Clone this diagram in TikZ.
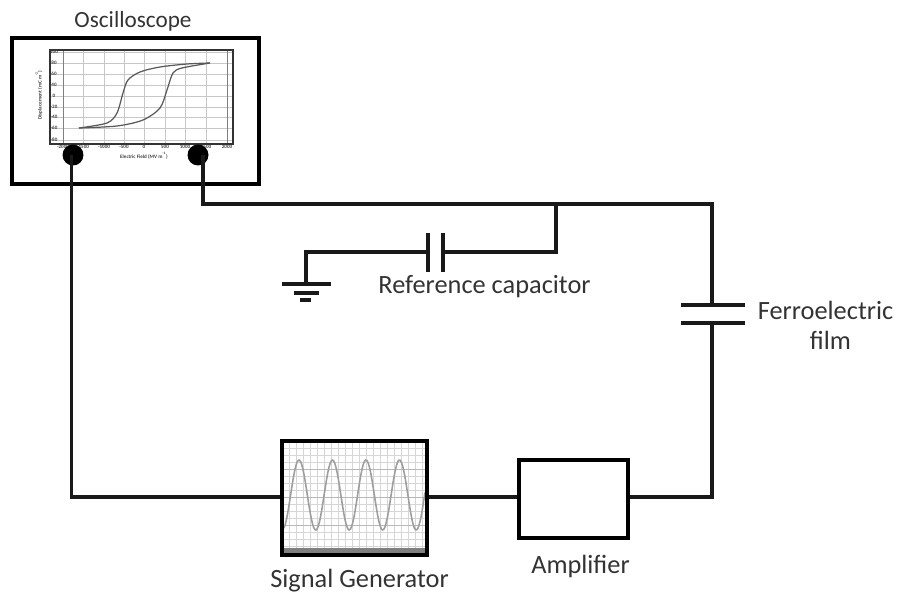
\documentclass[tikz,border=0pt]{standalone}
\usepackage{fontspec}
\setmainfont{Carlito}
\usepackage{tkz-euclide}
\definecolor{wavegray}{gray}{0.62}
\definecolor{gridgray}{gray}{0.84}
\tikzset{wire/.style={line width=1.8pt,black!90},
box/.style={draw=black,line width=1.9pt,fill=white,inner sep=0pt},
label/.style={font=\fontsize{15pt}{17pt}\selectfont,text=black!80,align=center,inner sep=0pt},
tiny/.style={font=\fontsize{2.9pt}{3pt}\selectfont\bfseries,text=black!75,inner sep=0pt}}
\begin{document}
\begin{tikzpicture}[x=0.02cm,y=-0.02cm]
\useasboundingbox (0,0) rectangle (898,597);
% oscilloscope
\node[box,line width=2.1pt,minimum width=4.94cm,minimum height=2.92cm] (scope) at (135.5,111) {};
\node[label,font=\fontsize{13.2pt}{16pt}\selectfont] (scopetext) at (133,21) {Oscilloscope};
\draw[black!22,line width=.4pt] (50,52) -- (233,52) (50,63) -- (233,63) (50,74) -- (233,74) (50,85) -- (233,85) (50,96) -- (233,96) (50,107) -- (233,107) (50,117) -- (233,117) (50,128) -- (233,128) (50,140) -- (233,140);
\foreach \xa in {83,104,124,144,165,185,206}
\draw[black!22,line width=.4pt] (\xa,50) -- (\xa,144);
\draw[black!50,line width=.5pt] (63,50) -- (63,144) (227,50) -- (227,144);
\draw[black!80,line width=.9pt] (50,50) rectangle (233,144);
\draw[black!65,line width=.7pt] plot[smooth] coordinates {(79,128) (107,123) (117,113) (123,93) (128,80) (140,72) (160,67) (187,64) (210,63)};
\draw[black!65,line width=.7pt] plot[smooth] coordinates {(79,128) (117,126) (143,120) (160,108) (167,90) (173,73) (182,68) (210,63)};
\foreach \xa/\xb in {63/-2000,83/-1500,104/-1000,124/-500,144/0,165/500,185/1000,206/1500,227/2000}
\node[tiny] at (\xa,147) {\xb};
\foreach \ya/\yb in {52/100,63/80,74/60,85/40,96/0,107/-20,117/-40,128/-60,140/-80}
\node[tiny] at (54,\ya) {\yb};
\node[tiny] (xtext) at (144,156) {Electric Field (MV m\textsuperscript{-1})};
\node[tiny,rotate=90] (ytext) at (39,95) {Displacement (mC m\textsuperscript{-2})};
\node[circle,fill=black,minimum size=0.42cm,inner sep=0pt] (pa) at (73,155) {};
\node[circle,fill=black,minimum size=0.42cm,inner sep=0pt] (pb) at (198,155) {};
% signal generator
\node[box,minimum width=2.9cm,minimum height=2.28cm] (gen) at (354.5,498) {};
\foreach \xa in {289,296,...,425}
\draw[gridgray,line width=.4pt] (\xa,443) -- (\xa,548);
\foreach \ya in {448,455,...,546}
\draw[gridgray,line width=.4pt] (284,\ya) -- (425,\ya);
\foreach \ya in {469,497,525}
\draw[black!28,line width=.5pt] (284,\ya) -- (425,\ya);
\fill[black!50] (283,548) rectangle (426,555);
\draw[wavegray,line width=.9pt,domain=284:425,samples=120] plot (\x,{495-35*sin(10.746*(\x-290.6))});
\draw[black,line width=1.9pt] (282,441) rectangle (427,555);
\node[label] (gentext) at (359.5,581) {Signal Generator};
% amplifier
\node[box,minimum width=2.18cm,minimum height=1.56cm] (amp) at (573.5,499) {};
\node[label] (amptext) at (580.5,566) {Amplifier};
% wires
\coordinate (c1) at (71.5,497);
\coordinate (c2) at (203,204);
\coordinate (c3) at (712,204);
\coordinate (c4) at (712,305);
\coordinate (c5) at (712,323);
\coordinate (c6) at (712,497);
\coordinate (c7) at (556,204);
\coordinate (c8) at (556,252);
\coordinate (c9) at (443,252);
\coordinate (c10) at (428,252);
\coordinate (c11) at (306,252);
\coordinate (c12) at (306,284);
\draw[wire] (71.5,155) -- (c1) -- (c1-|gen.west);
\draw[wire] (203,155) -- (c2) -- (c3) -- (c4);
\draw[wire] (c5) -- (c6) -- (c6-|amp.east);
\draw[wire] (gen.east|-c6) -- (amp.west|-c6);
\draw[wire] (c7) -- (c8) -- (c9);
\draw[wire] (c10) -- (c11) -- (c12);
% capacitors
\draw[wire] (681,305) -- (745,305) (681,323) -- (745,323);
\draw[wire] (428,233) -- (428,272) (443,233) -- (443,272);
% ground
\draw[wire] (282,284) -- (331,284) (294,293) -- (319,293) (300,300) -- (311,300);
\node[label] (reftext) at (484.5,287) {Reference capacitor};
\node[label] (filmtext) at (825.5,325) {Ferroelectric\\\hspace*{5.6pt}film};
\end{tikzpicture}
\end{document}
